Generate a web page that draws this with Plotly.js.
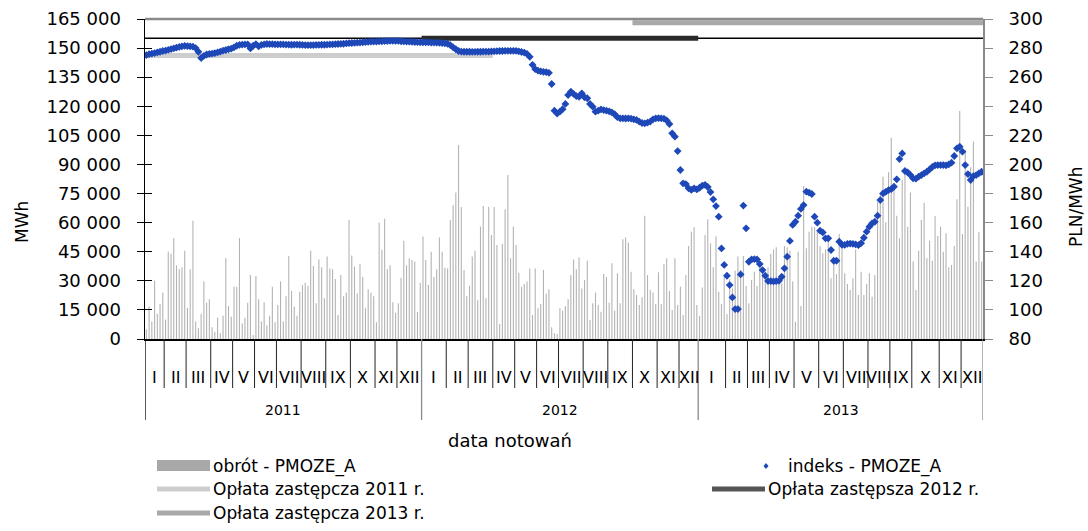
<!DOCTYPE html>
<html><head><meta charset="utf-8">
<script src="https://cdn.plot.ly/plotly-3.0.1.min.js"></script>
<style>html,body{margin:0;padding:0;background:#fff;}#chart{width:1088px;height:531px;}</style>
</head><body><div id="chart"></div>
<script>
const years = ['2011', '2012', '2013'];
const monthLabels = ['I','II','III','IV','V','VI','VII','VIII','IX','X','XI','XII'];
// number of quotations (sessions) per month
const sessions2011 = [7, 8, 9, 8, 8, 8, 9, 9, 9, 9, 8, 9];
const sessions2012 = [9, 8, 9, 8, 8, 8, 9, 9, 9, 9, 8, 7];
const sessions2013 = [10, 8, 8, 9, 9, 9, 9, 8, 8, 10, 8, 8];

// obrót - PMOZE_A [MWh]
const obrot2011 = [5000,16700,9000,30000,13000,18000,24000,10000,45000,44000,
  52000,38000,36000,37000,45500,16000,36000,61000,9000,5500,
  13000,29600,18700,20500,6000,3800,11000,3000,12000,41600,
  17000,11500,27000,27000,52000,8000,11000,18700,33000,2000,
  32500,20500,9000,19000,7000,12000,27000,8600,17500,29600,
  9000,22000,42800,24800,16700,12000,24400,27800,29000,27500,
  45500,37600,18400,41000,37000,21000,42500,36400,36000,31000,
  12400,33000,22000,24000,61400,43000,37300,23500,38700,32000,
  15800,25600,24000,22000,8600,60000,46000,62000,36000,38000,
  19000,13500,18400,31600,50700,38000,41600,40700,40000,14000,
  29000];
const obrot2012 = [52800,40700,27800,45000,32000,36000,52400,45000,36800,36400,
  61400,69000,75500,100000,68000,35600,22000,27500,42500,45500,
  20000,58000,68600,21000,68000,53600,68000,48500,7700,49000,
  66900,84600,41600,58000,48500,34200,27000,28400,29600,36400,
  12400,36400,15800,18000,35600,23500,25600,6000,3000,2600,
  15800,14600,17000,20500,33000,41000,36000,42000,26000,30400,
  40400,9800,18400,24000,17500,14000,33500,32000,18700,39000,
  14600,33900,18400,51400,52400,49800,34700,25600,22700,17500,
  21500,63600,33000,25300,24000,18000,34400,18000,38700,41600,
  24800,15000,41600,17500,27000,12400,33000,48000,55300,57600,
  17500];
const obrot2013 = [11900,26600,53600,61700,49300,37000,53000,24400,18000,32000,
  12900,30800,26000,35200,42500,35600,42800,27300,18400,30400,
  34700,27300,37300,36400,33900,37000,43800,46200,47300,29600,
  28700,48000,47300,45500,29600,8900,45000,17000,78900,46800,
  55300,57900,57600,55300,48000,44200,46200,51000,31300,41000,
  33500,54100,48500,33900,28400,25300,31300,46200,22700,34700,
  22700,28400,33900,21800,33000,70800,75100,83700,60200,86000,
  103800,80300,63600,51900,82000,85400,57900,75500,39900,25300,
  45500,61400,70300,41600,50700,40400,63400,53100,57900,45000,
  54500,37000,38200,48000,72000,117600,54100,97500,68200,88500,
  101800,39900,55000,40000];

// indeks - PMOZE_A [PLN/MWh]
const indeks2011 = [275.2,275.8,276.2,276.6,277.0,277.5,278.0,
  278.3,278.8,279.3,279.8,280.3,280.8,281.2,281.5,
  281.4,281.2,281.0,280.0,277.5,273.2,274.6,275.6,276.0,
  276.2,276.6,277.0,277.6,278.2,278.7,279.2,279.6,
  280.5,281.6,282.2,282.4,282.5,282.6,279.8,281.6,
  282.7,281.2,282.2,282.6,282.8,282.7,282.7,282.6,
  282.6,282.6,282.5,282.4,282.4,282.3,282.4,282.4,282.3,
  282.2,282.1,282.0,282.0,282.1,282.2,282.2,282.3,282.3,
  282.4,282.5,282.6,282.7,282.8,282.9,283.0,283.2,283.4,
  283.5,283.6,283.7,283.8,284.0,284.2,284.3,284.4,284.5,
  284.5,284.6,284.7,284.8,284.8,285.0,285.0,284.9,
  284.9,284.7,284.6,284.5,284.4,284.3,284.2,284.1,284.0];
const indeks2012 = [284.0,284.0,283.9,283.8,283.8,283.7,283.6,283.5,283.3,
  283.0,282.0,280.5,279.2,278.0,277.6,277.5,277.5,
  277.5,277.4,277.4,277.5,277.5,277.6,277.6,277.6,277.7,
  277.8,277.9,278.0,278.0,278.1,278.1,278.1,278.1,
  278.1,277.8,277.3,276.9,276.0,274.0,268.5,265.5,
  264.5,264.0,263.7,263.5,263.0,255.3,237.0,235.0,
  236.3,238.0,241.6,247.7,250.0,248.5,247.0,246.5,248.9,
  246.2,245.5,241.6,239.7,236.3,237.0,237.8,237.4,237.0,
  236.5,235.8,234.5,232.5,231.7,231.7,231.6,231.7,231.5,
  231.0,230.6,229.4,228.5,228.3,228.8,229.5,231.0,231.7,
  231.8,231.7,231.5,230.3,227.8,221.4,219.1,209.2,
  196.2,187.0,186.5,183.6,182.5,183.6,182.8];
const indeks2013 = [184.0,185.5,186.0,184.5,181.0,176.0,171.4,164.1,142.3,130.9,
  123.5,117.1,108.6,100.6,100.6,124.4,171.7,156.1,
  133.1,134.7,134.9,134.7,131.5,127.4,123.5,119.8,
  119.8,119.6,119.8,120.0,122.8,128.6,136.6,147.4,158.4,
  160.6,164.8,169.4,172.1,181.3,180.6,179.7,164.1,160.0,
  154.5,153.3,149.2,149.2,141.2,133.8,133.8,146.9,144.8,
  144.7,145.4,145.6,145.4,145.0,144.5,145.9,149.6,153.8,
  157.2,159.5,160.6,164.8,175.5,180.1,181.2,182.4,
  183.0,184.7,189.8,203.7,207.6,195.5,194.6,192.7,
  190.4,190.2,191.6,192.7,193.9,195.0,196.6,198.3,199.4,199.6,
  199.6,199.6,199.4,200.0,201.2,205.8,211.1,212.2,
  208.8,199.6,193.4,189.3,192.0,192.7,193.9,195.0];

// opłaty zastępcze [PLN/MWh] and their periods [year, month]
const feeNames = ['Opłata zastępcza 2011 r.', 'Opłata zastępsza 2012 r.', 'Opłata zastępcza 2013 r.'];
const feeValues = [274.92, 286.74, 297.35];
const feeFrom = [[2011, 1], [2012, 1], [2012, 10]];
const feeTo = [[2012, 3], [2012, 12], [2013, 12]];

const seriesNames = ['obrót - PMOZE_A', 'indeks - PMOZE_A'];

// ---- build ----
const sessions = [sessions2011, sessions2012, sessions2013];
const obrot = obrot2011.concat(obrot2012, obrot2013);
const indeks = indeks2011.concat(indeks2012, indeks2013);
const xs = obrot.map((_, i) => i);
const N = obrot.length;

const PL = 145, PR = 983, PT = 19, PB = 339;
const px2x = p => (p - PL) / (PR - PL);
const py2y = p => (PB - p) / (PB - PT);

const annotations = [], shapes = [];
const monthStart = [];
let c = 0;
years.forEach((yr, yi) => {
  const ys = c;
  monthStart.push([]);
  sessions[yi].forEach((n, mi) => {
    monthStart[yi].push(c);
    annotations.push({x: c + n / 2 - 0.5, y: py2y(377), xref: 'x', yref: 'paper', text: monthLabels[mi],
      showarrow: false, font: {size: 16, color: '#000'}, yanchor: 'middle', xanchor: 'center'});
    c += n;
    if (mi < 11) shapes.push({type: 'line', xref: 'x', yref: 'paper', x0: c - 0.5, x1: c - 0.5,
      y0: 0, y1: py2y(388), line: {color: '#222', width: 1}});
  });
  annotations.push({x: (ys + c) / 2 - 0.5, y: py2y(410), xref: 'x', yref: 'paper', text: yr,
    showarrow: false, font: {size: 14, color: '#000'}, yanchor: 'middle'});
  shapes.push({type: 'line', xref: 'x', yref: 'paper', x0: c - 0.5, x1: c - 0.5, y0: 0, y1: py2y(420),
    line: {color: '#8a8a8a', width: 1.3}});
});
shapes.push({type: 'line', xref: 'x', yref: 'paper', x0: -0.5, x1: -0.5, y0: 0, y1: py2y(420),
  line: {color: '#000', width: 1.3}});

const idxStart = (ym) => monthStart[ym[0] - 2011][ym[1] - 1];
const idxEnd = (ym) => monthStart[ym[0] - 2011][ym[1] - 1] + sessions[ym[0] - 2011][ym[1] - 1];

const feeColors = ['#cdcdcd', '#2a2a2a', '#a9a9a9'];
const traces = [{
  type: 'bar', x: xs, y: obrot, name: seriesNames[0], marker: {color: '#b3b3b3', line: {width: 0}},
  yaxis: 'y', hoverinfo: 'skip'
}];
feeValues.forEach((v, k) => {
  traces.push({type: 'scatter', mode: 'lines', x: [idxStart(feeFrom[k]) - 0.5, idxEnd(feeTo[k]) - 0.5], y: [v, v],
    yaxis: 'y2', name: feeNames[k], line: {color: feeColors[k], width: 5}, hoverinfo: 'skip'});
});
traces.push({type: 'scatter', mode: 'markers', x: xs, y: indeks, yaxis: 'y2', name: seriesNames[1],
  marker: {symbol: 'diamond', size: 6, color: '#1e48b8'}, hoverinfo: 'skip'});
// dummy trace to carry the crossing ticks on the left axis
traces.push({type: 'scatter', x: [0], y: [0], yaxis: 'y3', mode: 'none', showlegend: false, hoverinfo: 'skip'});

// thin line across the chart at the 2012 fee level, and top frame
shapes.push({type: 'line', xref: 'paper', yref: 'y2', x0: 0, x1: 1, y0: feeValues[1], y1: feeValues[1],
  line: {color: '#000', width: 1.5}, layer: 'below'});
shapes.push({type: 'line', xref: 'paper', yref: 'paper', x0: 0, x1: 1, y0: 1, y1: 1,
  line: {color: '#8a8a8a', width: 2.5}});

// axis titles
annotations.push({xref: 'paper', yref: 'paper', x: px2x(22), y: py2y(222), text: 'MWh', textangle: -90,
  showarrow: false, font: {size: 17}, xanchor: 'center', yanchor: 'middle'});
annotations.push({xref: 'paper', yref: 'paper', x: px2x(1076), y: py2y(207), text: 'PLN/MWh', textangle: -90,
  showarrow: false, font: {size: 17}, xanchor: 'center', yanchor: 'middle'});
annotations.push({xref: 'paper', yref: 'paper', x: px2x(510), y: py2y(440), text: 'data notowań',
  showarrow: false, font: {size: 18}, xanchor: 'center', yanchor: 'middle'});

// manual legend
function legendText(px, py, t) {
  annotations.push({xref: 'paper', yref: 'paper', x: px2x(px), y: py2y(py), text: t, showarrow: false,
    font: {size: 17}, xanchor: 'left', yanchor: 'middle'});
}
function legendLine(px0, px1, py, color) {
  shapes.push({type: 'line', xref: 'paper', yref: 'paper', x0: px2x(px0), x1: px2x(px1), y0: py2y(py), y1: py2y(py),
    line: {color: color, width: 5}});
}
shapes.push({type: 'rect', xref: 'paper', yref: 'paper', x0: px2x(157), x1: px2x(210), y0: py2y(471), y1: py2y(460),
  fillcolor: '#a8a8a8', line: {width: 0}});
legendText(211, 466, seriesNames[0]);
shapes.push({type: 'path', xref: 'paper', yref: 'paper',
  path: `M ${px2x(766)} ${py2y(463)} L ${px2x(768.5)} ${py2y(466)} L ${px2x(766)} ${py2y(469)} L ${px2x(763.5)} ${py2y(466)} Z`,
  fillcolor: '#1e48b8', line: {width: 0}});
legendText(786, 466, seriesNames[1]);
legendLine(157, 210, 489, feeColors[0]);
legendText(211, 489, feeNames[0]);
legendLine(712, 765, 489, '#555555');
legendText(766, 489, feeNames[1]);
legendLine(157, 210, 513, feeColors[2]);
legendText(211, 513, feeNames[2]);

const layout = {
  width: 1088, height: 531,
  margin: {l: PL, r: 1088 - PR, t: PT, b: 531 - PB, pad: 0},
  paper_bgcolor: '#fff', plot_bgcolor: '#fff',
  font: {family: 'DejaVu Sans, Verdana, sans-serif', color: '#000', size: 17},
  separators: ', ',
  showlegend: false,
  bargap: 0.6,
  xaxis: {range: [-0.5, N - 0.5], showticklabels: false, ticks: '', showgrid: false, zeroline: false,
    showline: true, linecolor: '#000', linewidth: 1.5, fixedrange: true},
  yaxis: {range: [0, 165000], dtick: 15000, tick0: 0, tickformat: ',.0f', showgrid: false, zeroline: false,
    showline: true, linecolor: '#000', linewidth: 1.5, ticks: 'outside', ticklen: 7, tickcolor: '#000',
    tickfont: {size: 18}, ticklabelstandoff: 12},
  yaxis3: {range: [0, 165000], dtick: 15000, tick0: 0, overlaying: 'y', side: 'left', showticklabels: false,
    ticks: 'inside', ticklen: 7, tickcolor: '#000', showgrid: false, zeroline: false, showline: false},
  yaxis2: {range: [80, 300], dtick: 20, tick0: 80, overlaying: 'y', side: 'right', showgrid: false, zeroline: false,
    showline: true, linecolor: '#8a8a8a', linewidth: 2, ticks: 'outside', ticklen: 8, tickcolor: '#8a8a8a',
    tickfont: {size: 18}, ticklabelstandoff: 12},
  shapes: shapes,
  annotations: annotations
};
Plotly.newPlot('chart', traces, layout, {displayModeBar: false, staticPlot: true});
</script>
</body></html>
